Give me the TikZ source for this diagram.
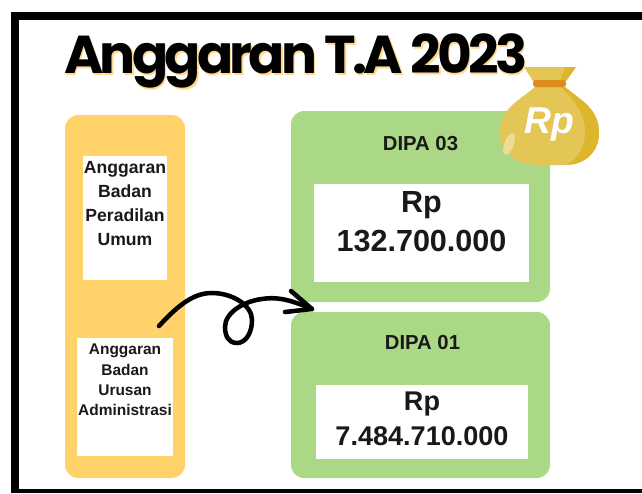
\documentclass[tikz,border=0pt]{standalone}
\usepackage{fontspec}
\setmainfont{Liberation Sans}
\newfontfamily\titlefont{Poppins}[LetterSpace=-7]
\definecolor{panelyellow}{HTML}{FFD369}
\definecolor{panelgreen}{HTML}{ABD887}
\definecolor{bagmain}{HTML}{E3C655}
\definecolor{bagdark}{HTML}{DDB62E}
\definecolor{bagtie}{HTML}{DC8B1C}
\definecolor{titleshadow}{HTML}{FFD98C}
\definecolor{bagshine}{HTML}{EFDC93}
\tikzset{
  panel/.style={rounded corners=10pt},
  whitebox/.style={fill=white,draw=none,inner sep=0pt},
  bodytxt/.style={font=\fontsize{13.2}{18}\selectfont\bfseries,text=black!90,align=center,inner sep=0pt},
  smalltxt/.style={font=\fontsize{11.6}{15.3}\selectfont\bfseries,text=black!90,align=center,inner sep=0pt},
  amountbig/.style={font=\fontsize{22.9}{29.2}\selectfont\bfseries,text=black!90,align=center,inner sep=0pt},
  amountsmall/.style={font=\fontsize{20.3}{26}\selectfont\bfseries,text=black!90,align=center,inner sep=0pt},
  dipa/.style={font=\fontsize{15.2}{16}\selectfont\bfseries,text=black!90,inner sep=0pt},
  titletxt/.style={font=\fontsize{40}{40}\selectfont\titlefont\bfseries,inner sep=0pt,anchor=base west},
  curl/.style={draw=black,line width=3.4pt,line cap=round,line join=round},
}
\begin{document}
\begin{tikzpicture}[x=0.75pt,y=-0.75pt]
\useasboundingbox (0,0) rectangle (642,493);
\fill[white] (0,0) rectangle (642,493);
% frame
\fill[black] (11,12) rectangle (642,493);
\fill[white] (19,20) rectangle (642,489);
% title
\node[titletxt,text=titleshadow] (titleback) at (65.5,75) {Anggaran T.A 2023};
\node[titletxt,text=black] (title) at (64,73) {Anggaran T.A 2023};
% panels
\fill[panelyellow,panel] (65,115) rectangle (185,478);
\fill[panelgreen,panel] (291,111) rectangle (550,302);
\fill[panelgreen,panel] (291,312) rectangle (550,478);
% white boxes
\node[whitebox,minimum width=63pt,minimum height=93pt] (umum) at (125,218) {};
\node[bodytxt] (umumtxt) at (125,204) {Anggaran\\Badan\\Peradilan\\Umum};
\node[whitebox,minimum width=72pt,minimum height=88.5pt] (adm) at (125,397) {};
\node[smalltxt] (admtxt) at (125,380) {Anggaran\\Badan\\Urusan\\Administrasi};
\node[whitebox,minimum width=161.25pt,minimum height=73.5pt] (d3) at (421.5,233) {};
\node[amountbig] (d3txt) at (421.5,222) {Rp\\132.700.000};
\node[whitebox,minimum width=159pt,minimum height=55.5pt] (d1) at (422,422) {};
\node[amountsmall] (d1txt) at (422,419) {Rp\\7.484.710.000};
\node[dipa] (t3) at (420.5,144) {DIPA 03};
\node[dipa] (t1) at (422.5,343) {DIPA 01};
% curl arrow
\coordinate (cs) at (159,326);
\coordinate (ce) at (312,309);
\coordinate (ha) at (291,291);
\coordinate (hb) at (285,312);
\draw[curl] (cs) .. controls (180,303) and (195,293) .. (212,293)
  .. controls (232,293) and (252,305) .. (252,320)
  .. controls (252,334) and (245,343) .. (237,343)
  .. controls (228,343) and (225,335) .. (225,327)
  .. controls (225,312) and (245,301) .. (262,299)
  .. controls (280,296) and (295,302) .. (ce);
\draw[curl] (ha) -- (ce) -- (hb);
% money bag
\fill[bagmain] (524,67) -- (576,67) -- (566,81) -- (533,81) -- cycle;
\fill[bagdark] (565,67) -- (576,67) -- (566,81) -- (560,81) -- cycle;
\fill[bagmain] (535,87) .. controls (520,100) and (500,108) .. (500,133)
  .. controls (500,152) and (516,165) .. (540,165) -- (560,165)
  .. controls (585,165) and (599,152) .. (599,133)
  .. controls (599,108) and (580,100) .. (565,87) -- cycle;
\fill[bagdark] (565,87) .. controls (580,100) and (599,108) .. (599,133)
  .. controls (599,152) and (585,165) .. (566,165)
  .. controls (580,158) and (586,145) .. (585,128)
  .. controls (584,112) and (572,98) .. (561,87) -- cycle;
\fill[bagtie,rounded corners=2pt] (533,80) rectangle (566,87);
\fill[bagshine,rotate around={-20:(509,144)}] (509,144) ellipse (3.5pt and 8.5pt);
\node[font=\fontsize{28}{28}\selectfont\bfseries\itshape,text=white,inner sep=0pt] (rp) at (549,125) {Rp};
\end{tikzpicture}
\end{document}
